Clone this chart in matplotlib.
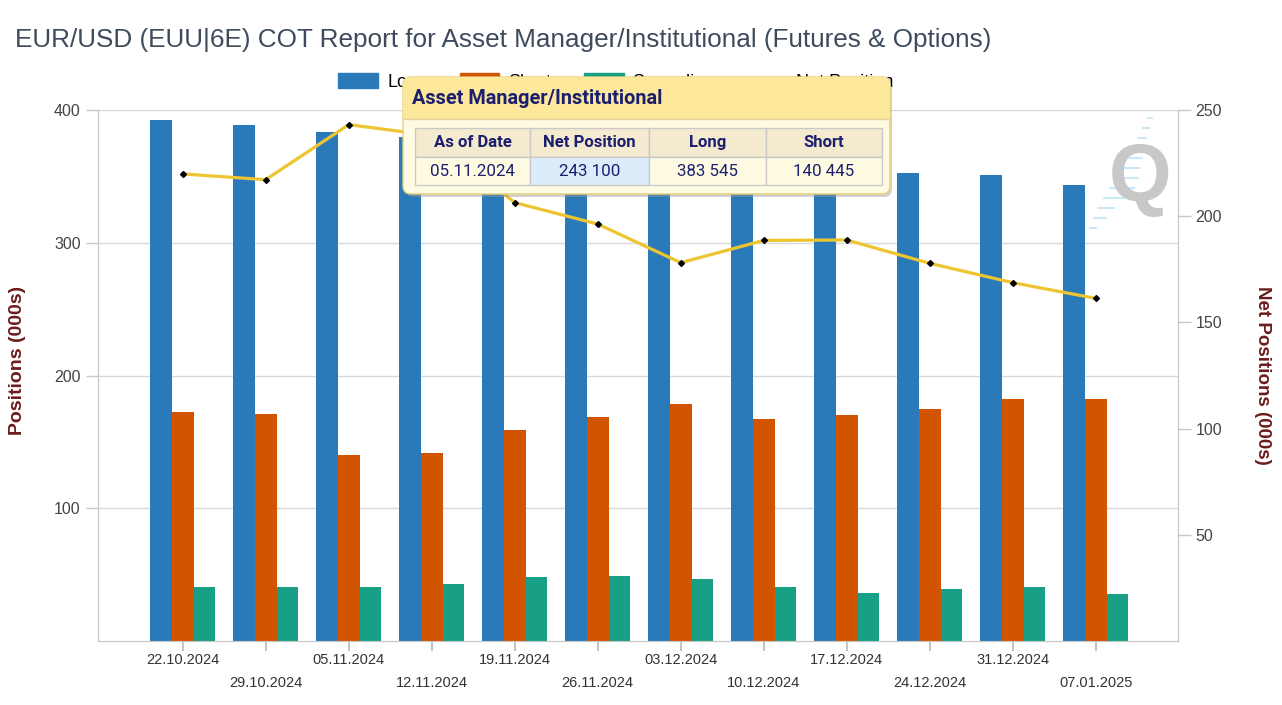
import numpy as np
import matplotlib.pyplot as plt
from matplotlib.patches import Rectangle, FancyBboxPatch
from matplotlib.lines import Line2D
from matplotlib.patches import Patch

# report dates
dates = ["22.10.2024", "29.10.2024", "05.11.2024", "12.11.2024", "19.11.2024", "26.11.2024",
         "03.12.2024", "10.12.2024", "17.12.2024", "24.12.2024", "31.12.2024", "07.01.2025"]

# positions in thousands
long_pos = [392.3, 388.4, 383.5, 379.9, 365.6, 365.2, 356.5, 356.0, 358.7, 352.7, 350.9, 343.5]
short_pos = [172.4, 171.2, 140.4, 141.9, 159.2, 168.9, 178.4, 167.4, 169.9, 174.9, 182.2, 182.2]
spreading = [40.5, 40.5, 40.5, 43.0, 48.0, 49.0, 46.5, 40.5, 36.5, 39.0, 40.5, 35.5]
net_pos = [219.9, 217.2, 243.1, 238.0, 206.4, 196.3, 178.1, 188.6, 188.8, 177.8, 168.7, 161.3]

# tooltip content
tip_title = "Asset Manager/Institutional"
tip_head = ["As of Date", "Net Position", "Long", "Short"]
tip_vals = ["05.11.2024", "243 100", "383 545", "140 445"]

c_long = "#2a7ab9"
c_short = "#d35400"
c_spread = "#17a085"
c_net = "#ecc530"
axis_red = "#6b1c1c"
tick_col = "#444444"
grid_col = "#d8d8d8"

plt.rcParams['font.family'] = ['Liberation Sans', 'DejaVu Sans']

W, H = 1282, 705
fig = plt.figure(figsize=(W / 100, H / 100), dpi=100)

def fx(px):
    return px / W

def fy(py):
    return 1 - py / H

ax = fig.add_axes([fx(98), fy(641), fx(1178) - fx(98), fy(110) - fy(641)])
ax2 = ax.twinx()

x = np.arange(len(dates))
bw = 0.262
ax.bar(x - bw, long_pos, bw, color=c_long, zorder=3)
ax.bar(x, short_pos, bw, color=c_short, zorder=3)
ax.bar(x + bw, spreading, bw, color=c_spread, zorder=3)
ax.set_xlim(-1.02, 11.99)
ax.set_ylim(0, 400)
ax.set_yticks([100, 200, 300, 400])
ax.grid(axis="y", color=grid_col, lw=1, zorder=0)
ax.set_xticks(x)
# every second date label goes on a lower row
ax.set_xticklabels([d if i % 2 == 0 else "\n" + d for i, d in enumerate(dates)],
                   fontsize=10.5, color="#333333", linespacing=1.75)

ax2.plot(x, net_pos, color=c_net, lw=2.3, zorder=4)
ax2.plot(x, net_pos, "D", color="black", ms=3, zorder=5)
ax2.set_ylim(0, 250)
ax2.set_yticks([50, 100, 150, 200, 250])

for a in (ax, ax2):
    for s in a.spines.values():
        s.set_color("#c8c8c8")
    a.spines["top"].set_visible(False)
    a.tick_params(axis="y", colors="#c8c8c8", labelcolor=tick_col, labelsize=11.5,
                  length=9, width=1)
ax.tick_params(axis="x", colors="#b8b8b8", labelcolor="#333333", length=7, width=1.2, pad=2)

fig.text(fx(18), fy(360), "Positions (000s)", rotation=90, ha="center", va="center",
         fontsize=14, fontweight="bold", color=axis_red)
fig.text(fx(1262), fy(375), "Net Positions (000s)", rotation=-90, ha="center", va="center",
         fontsize=13.5, fontweight="bold", color=axis_red)

fig.text(fx(15), fy(40), "EUR/USD (EUU|6E) COT Report for Asset Manager/Institutional (Futures & Options)",
         ha="left", va="center", fontsize=18.8, color="#3e4b5c")

# watermark
fig.text(fx(1140), fy(180), "Q", ha="center", va="center", fontsize=58, fontweight="bold",
         color="#c8c8c8", zorder=2)
for dx0, dy0, ln in [(1148, 118, 4), (1143, 128, 6), (1138, 138, 8), (1133, 148, 10),
                     (1128, 158, 14), (1122, 168, 18), (1116, 178, 22),
                     (1110, 188, 24), (1104, 198, 22), (1098, 208, 16),
                     (1094, 218, 12), (1090, 228, 6)]:
    fig.add_artist(Line2D([fx(dx0), fx(dx0 + ln)], [fy(dy0), fy(dy0)], color="#bfe3f5",
                          lw=1.2, zorder=2))

# legend
handles = [Patch(color=c_long), Patch(color=c_short), Patch(color=c_spread),
           Line2D([], [], color=c_net, lw=2.5)]
fig.legend(handles, ["Long", "Short", "Spreading", "Net Position"], ncol=4,
           loc="center", bbox_to_anchor=(fx(616), fy(82)), frameon=False, fontsize=13,
           handlelength=2.2, handleheight=0.9, columnspacing=1.8, handletextpad=0.5)

# tooltip
tl, tt, tw, th = 403, 77, 490, 120
tip = fig.add_axes([fx(tl), fy(tt + th), fx(tw), fy(tt) - fy(tt + th)], zorder=10)
tip.set_xlim(0, tw)
tip.set_ylim(th, 0)
tip.axis("off")
tip.add_patch(FancyBboxPatch((3, 4), tw - 4, th - 4, boxstyle="round,pad=0,rounding_size=8",
                             fc="#9a9a9a", ec="none", alpha=0.45, clip_on=False))
tip.add_patch(FancyBboxPatch((0, 0), tw - 3, th - 3, boxstyle="round,pad=0,rounding_size=8",
                             fc="#fffbe3", ec="#e6cf78", lw=1, clip_on=False))
tip.add_patch(FancyBboxPatch((0, 0), tw - 3, 42, boxstyle="round,pad=0,rounding_size=8",
                             fc="#fde79a", ec="none", clip_on=False))
tip.add_patch(Rectangle((0, 30), tw - 3, 12, fc="#fde79a", ec="none"))
tip.plot([1, tw - 4], [42, 42], color="#e2d3a0", lw=1)
tip.text(9, 21, tip_title, ha="left", va="center", fontsize=14.3, fontweight="bold",
         color="#1b1f6e", family="Roboto")
cols = [12, 127, 246, 363, 479]
r0, r1, r2 = 51, 80, 108
for j in range(4):
    tip.add_patch(Rectangle((cols[j], r0), cols[j + 1] - cols[j], r1 - r0, fc="#f4ead0",
                            ec="#c9c9c9", lw=1))
    tip.add_patch(Rectangle((cols[j], r1), cols[j + 1] - cols[j], r2 - r1,
                            fc="#dcecfb" if j == 1 else "#fffbe3", ec="#c9c9c9", lw=1))
    cx = (cols[j] + cols[j + 1]) / 2
    tip.text(cx, (r0 + r1) / 2, tip_head[j], ha="center", va="center", fontsize=12,
             fontweight="bold", color="#1b1f6e", family="Roboto")
    tip.text(cx, (r1 + r2) / 2, tip_vals[j], ha="center", va="center", fontsize=12.2,
             color="#1b1f6e", family="Roboto")

fig.savefig("out.png", dpi=100)
